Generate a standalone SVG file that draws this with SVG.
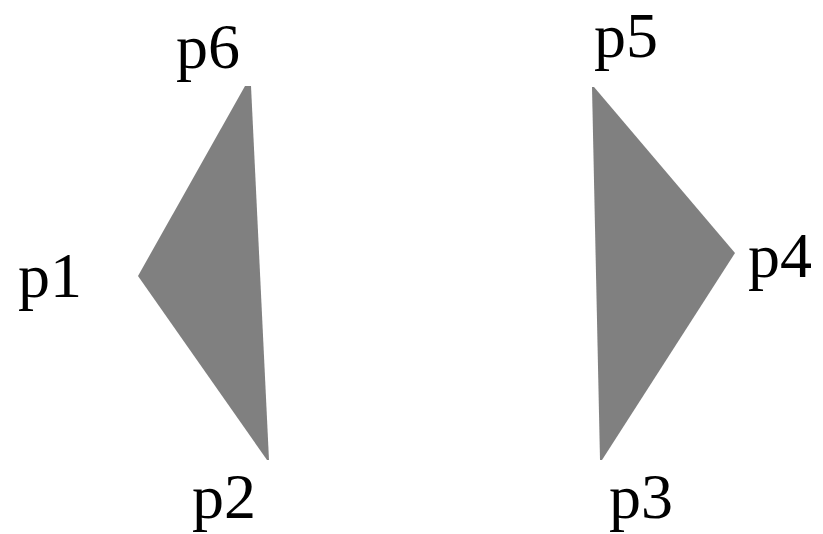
<svg xmlns="http://www.w3.org/2000/svg" width="823" height="534" viewBox="0 0 823 534">
<style>
.tri{fill:#808080;stroke:none}
.lbl{font-family:"Liberation Serif","Times New Roman",serif;font-size:64px;fill:#000}
</style>
<rect width="823" height="534" fill="#fff"/>
<g id="left-triangle">
<polygon class="tri" points="245,86 251,86 269,460 267,460 138,276"/>
</g>
<g id="right-triangle">
<polygon class="tri" points="592,87 594,87 735,253 602,460 600,460"/>
</g>
<g id="labels">
<text class="lbl" x="176" y="68">p6</text>
<text class="lbl" x="18" y="297">p1</text>
<text class="lbl" x="192" y="518">p2</text>
<text class="lbl" x="594" y="57">p5</text>
<text class="lbl" x="748" y="277">p4</text>
<text class="lbl" x="609" y="518">p3</text>
</g>
</svg>
